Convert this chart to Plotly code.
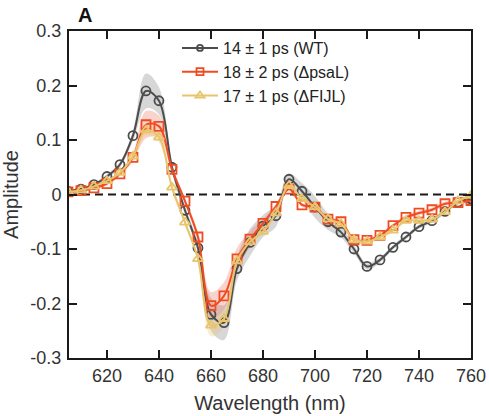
import plotly.graph_objects as go

wavelength = [605, 610, 615, 620, 625, 630, 635, 640, 645, 650, 655, 660, 665, 670, 675, 680,
              685, 690, 695, 700, 705, 710, 715, 720, 725, 730, 735, 740, 745, 750, 755, 760]

wt = [0.006, 0.010, 0.018, 0.033, 0.055, 0.108, 0.190, 0.172, 0.050, -0.029, -0.098, -0.220,
      -0.235, -0.136, -0.088, -0.058, -0.039, 0.028, 0.006, -0.023, -0.050, -0.069, -0.100, -0.132,
      -0.120, -0.097, -0.078, -0.059, -0.048, -0.031, -0.014, -0.008]
wt_err = [0.003, 0.003, 0.003, 0.004, 0.005, 0.010, 0.032, 0.025, 0.010, 0.008, 0.010, 0.030,
          0.032, 0.022, 0.025, 0.020, 0.020, 0.010, 0.015, 0.020, 0.015, 0.010, 0.008, 0.006,
          0.005, 0.004, 0.004, 0.004, 0.004, 0.004, 0.004, 0.004]

psal = [0.005, 0.007, 0.012, 0.020, 0.038, 0.068, 0.128, 0.125, 0.046, -0.012, -0.078, -0.204,
        -0.186, -0.118, -0.082, -0.053, -0.022, 0.010, -0.019, -0.023, -0.045, -0.050, -0.083, -0.084,
        -0.075, -0.057, -0.042, -0.034, -0.028, -0.017, -0.015, -0.011]
psal_err = [0.003, 0.003, 0.003, 0.003, 0.004, 0.008, 0.025, 0.020, 0.008, 0.005, 0.010, 0.025,
            0.025, 0.020, 0.015, 0.008, 0.005, 0.004, 0.004, 0.004, 0.004, 0.004, 0.005, 0.005,
            0.004, 0.004, 0.004, 0.004, 0.004, 0.004, 0.004, 0.004]

fijl = [0.005, 0.008, 0.015, 0.025, 0.040, 0.070, 0.118, 0.105, 0.013, -0.051, -0.118, -0.240,
        -0.228, -0.122, -0.087, -0.068, -0.034, 0.016, -0.008, -0.023, -0.045, -0.054, -0.083, -0.086,
        -0.078, -0.066, -0.048, -0.048, -0.046, -0.032, -0.012, -0.002]
fijl_err = [0.003, 0.003, 0.003, 0.003, 0.004, 0.006, 0.010, 0.010, 0.006, 0.005, 0.006, 0.020,
            0.015, 0.008, 0.006, 0.005, 0.004, 0.004, 0.004, 0.004, 0.004, 0.004, 0.004, 0.004,
            0.004, 0.004, 0.004, 0.004, 0.004, 0.004, 0.004, 0.004]

names = ["14 ± 1 ps (WT)", "18 ± 2 ps (ΔpsaL)", "17 ± 1 ps (ΔFIJL)"]
line_colors = ["#4d4d4d", "#f04c22", "#e8c46c"]
band_colors = ["rgba(140,140,140,0.35)", "rgba(240,110,90,0.30)", "rgba(232,196,108,0.30)"]
symbols = ["circle-open", "square-open", "triangle-up-open"]
legend_marker_sizes = [6, 7, 8]

x_ticks = [620, 640, 660, 680, 700, 720, 740, 760]
y_ticks = [-0.3, -0.2, -0.1, 0, 0.1, 0.2, 0.3]
y_ticktext = ["-0.3", "-0.2", "-0.1", "0", "0.1", "0.2", "0.3"]

series = [(wt, wt_err), (psal, psal_err), (fijl, fijl_err)]

fig = go.Figure()

# shaded bands
for (vals, errs), bc in zip(series, band_colors):
    upper = [v + e for v, e in zip(vals, errs)]
    lower = [v - e for v, e in zip(vals, errs)]
    fig.add_trace(go.Scatter(
        x=wavelength + wavelength[::-1], y=upper + lower[::-1],
        fill="toself", fillcolor=bc, line=dict(width=0, shape="spline"),
        mode="lines", hoverinfo="skip", showlegend=False))

# lines with markers
for (vals, _), name, lc, sym in zip(series, names, line_colors, symbols):
    fig.add_trace(go.Scatter(
        x=wavelength, y=vals, name=name, mode="lines+markers", showlegend=False,
        line=dict(color=lc, width=2, shape="spline"),
        marker=dict(symbol=sym, size=9, color=lc, line=dict(width=1.8, color=lc))))

# legend entries (smaller markers, as in the reference legend)
for name, lc, sym, ms in zip(names, line_colors, symbols, legend_marker_sizes):
    fig.add_trace(go.Scatter(
        x=[None], y=[None], name=name, mode="lines+markers",
        line=dict(color=lc, width=2),
        marker=dict(symbol=sym, size=ms, color=lc, line=dict(width=1.8, color=lc))))

fig.add_shape(type="line", xref="paper", yref="y", x0=0, x1=1, y0=0, y1=0,
              line=dict(color="#1a1a1a", width=2, dash="8px,5px"), layer="below")

W, H = 489, 416
ML, MR, MT, MB = 69, 18, 31, 58
plot_w = W - ML - MR
plot_h = H - MT - MB

fig.add_annotation(text="<b>A</b>", xref="paper", yref="paper",
                   x=(85 - ML) / plot_w, y=(H - MB - 15) / plot_h,
                   xanchor="center", yanchor="middle", showarrow=False,
                   font=dict(size=20, color="#111111", family="Liberation Sans, Arial"))

axis_common = dict(showline=True, linecolor="#1a1a1a", linewidth=2, mirror="ticks",
                   ticks="inside", ticklen=8, tickwidth=2, tickcolor="#1a1a1a",
                   showgrid=False, zeroline=False,
                   tickfont=dict(size=18, color="#333333"))

fig.update_layout(
    width=W, height=H,
    margin=dict(l=ML, r=MR, t=MT, b=MB, autoexpand=False),
    plot_bgcolor="white", paper_bgcolor="white",
    font=dict(family="Liberation Sans, Arial", color="#333333"),
    xaxis=dict(range=[605.4, 760], tickvals=x_ticks, ticklabelstandoff=0,
               title=dict(text="Wavelength (nm)", font=dict(size=20, color="#333333"), standoff=11),
               **axis_common),
    yaxis=dict(range=[-0.3, 0.3], tickvals=y_ticks, ticktext=y_ticktext, ticklabelstandoff=2,
               title=dict(text="Amplitude", font=dict(size=20, color="#333333"), standoff=7),
               **axis_common),
    legend=dict(x=(177 - ML) / plot_w, y=1.0, xanchor="left", yanchor="top",
                bgcolor="rgba(255,255,255,0)", font=dict(size=16, color="#222222"),
                tracegroupgap=0, itemwidth=36),
    showlegend=True,
)

fig.write_html("out.html", config={"displayModeBar": False},
               post_script="document.body.style.margin='0';document.body.style.overflow='hidden';")
